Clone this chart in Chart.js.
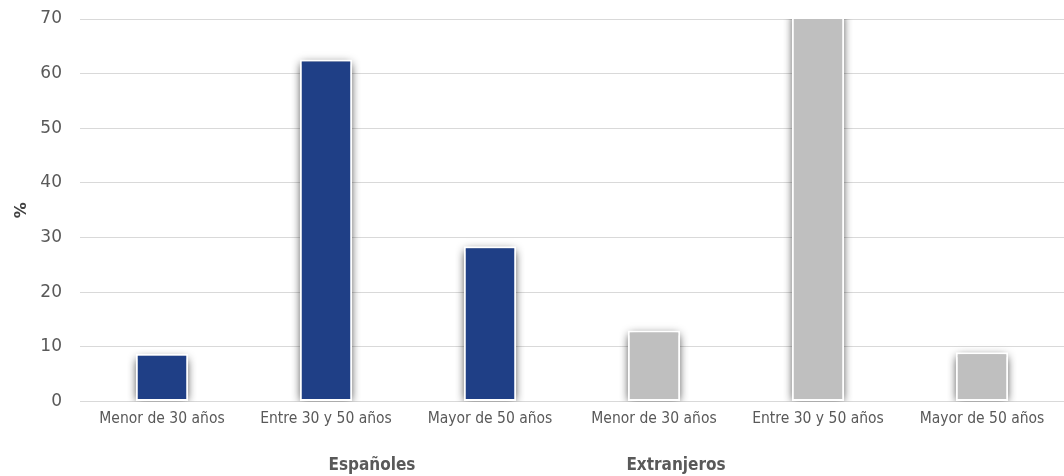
<!DOCTYPE html>
<html>
<head>
<meta charset="utf-8">
<script src="https://cdn.jsdelivr.net/npm/chart.js@4/dist/chart.umd.min.js"></script>
<style>
  html, body { margin: 0; padding: 0; background: #fff; }
  #wrap { width: 1064px; height: 476px; position: relative; }
</style>
</head>
<body>
<div id="wrap"><canvas id="myChart"></canvas></div>
<script>
const categories = ['Menor de 30 años', 'Entre 30 y 50 años', 'Mayor de 50 años',
                    'Menor de 30 años', 'Entre 30 y 50 años', 'Mayor de 50 años'];
const values = [8.7, 62.6, 28.4, 13.0, 79, 9.0];
const groups = ['Españoles', 'Extranjeros'];
const yTicks = [0, 10, 20, 30, 40, 50, 60, 70];
const barColors = ['#1F3F86', '#1F3F86', '#1F3F86', '#BFBFBF', '#BFBFBF', '#BFBFBF'];

// soft grey shadow behind each bar
const barShadow = {
  id: 'barShadow',
  beforeDatasetsDraw(chart) {
    const ctx = chart.ctx;
    const area = chart.chartArea;
    ctx.save();
    ctx.beginPath();
    ctx.rect(area.left, area.top, area.right - area.left, area.bottom - area.top);
    ctx.clip();
    chart.getDatasetMeta(0).data.forEach((bar) => {
      const w = bar.width;
      const top = Math.max(bar.y, area.top - 10);
      ctx.shadowColor = 'rgba(0,0,0,0.9)';
      ctx.shadowBlur = 9;
      ctx.fillStyle = '#fff';
      ctx.fillRect(bar.x - w / 2 + 1, top + 5, w - 2, bar.base - top - 5);
    });
    ctx.restore();
  }
};

// group captions under the category labels
const groupLabels = {
  id: 'groupLabels',
  afterDraw(chart) {
    const ctx = chart.ctx;
    const xs = chart.scales.x;
    ctx.save();
    ctx.font = 'bold 17px "DejaVu Sans Condensed", "DejaVu Sans", sans-serif';
    ctx.fillStyle = '#595959';
    ctx.textAlign = 'center';
    ctx.textBaseline = 'middle';
    const w = xs.width / categories.length;
    ctx.fillText(groups[0], xs.left + w * 1.78, 466);
    ctx.fillText(groups[1], xs.left + w * 3.634, 466);
    ctx.restore();
  }
};

new Chart(document.getElementById('myChart'), {
  type: 'bar',
  data: {
    labels: categories,
    datasets: [{
      data: values,
      backgroundColor: barColors,
      borderColor: '#ffffff',
      borderWidth: 2,
      borderSkipped: false,
      barPercentage: 0.32,
      categoryPercentage: 1
    }]
  },
  options: {
    responsive: true,
    maintainAspectRatio: false,
    animation: false,
    layout: { padding: { top: 19, right: 0, bottom: 48, left: 0 } },
    plugins: {
      legend: { display: false },
      tooltip: { enabled: false }
    },
    scales: {
      x: {
        grid: { display: false },
        border: { color: '#d9d9d9' },
        ticks: {
          color: '#595959',
          padding: 0,
          font: { family: '"DejaVu Sans Condensed", "DejaVu Sans", sans-serif', size: 15.5 },
          maxRotation: 0,
          autoSkip: false
        }
      },
      y: {
        min: 0,
        max: 70,
        afterBuildTicks: (axis) => { axis.ticks = yTicks.map((v) => ({ value: v })); },
        afterFit: (axis) => {
          axis.width = 80;
          axis.paddingTop = 0;
          axis.paddingBottom = 0;
        },
        grid: { color: '#d9d9d9', drawTicks: false },
        border: { display: false },
        ticks: {
          color: '#595959',
          padding: 18,
          font: { family: '"DejaVu Sans", sans-serif', size: 17 }
        },
        title: {
          display: true,
          text: '%',
          color: '#404040',
          padding: { top: 12, bottom: 0 },
          font: { family: '"DejaVu Sans", sans-serif', size: 16, weight: 'bold' }
        }
      }
    }
  },
  plugins: [barShadow, groupLabels]
});
</script>
</body>
</html>
